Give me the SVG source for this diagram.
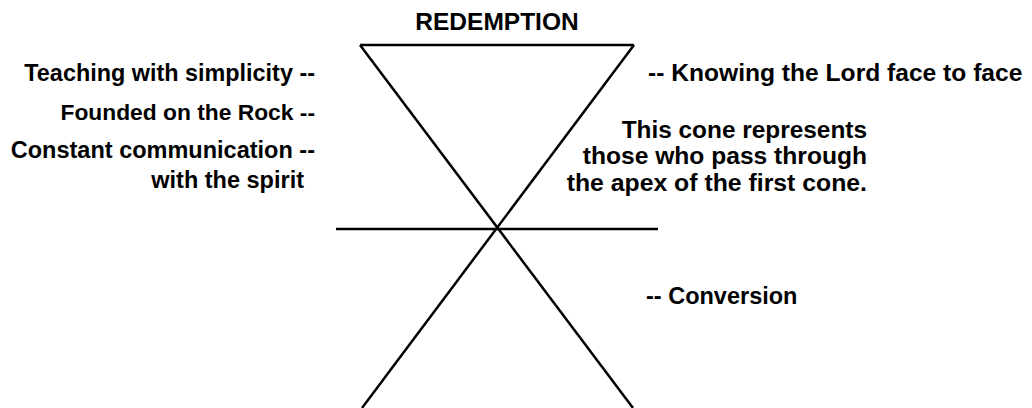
<svg xmlns="http://www.w3.org/2000/svg" width="1032" height="408" viewBox="0 0 1032 408">
<style>
text{font-family:"Liberation Sans",Arial,sans-serif;font-weight:bold;font-size:23.5px;fill:#000}
.e{text-anchor:end}
.m{text-anchor:middle}
.ln{stroke:#000;stroke-width:2.5;fill:none;stroke-linecap:butt}
</style>
<rect width="1032" height="408" fill="#fff"/>
<g id="connectors">
<line class="ln" x1="360" y1="45" x2="634" y2="45"/>
<line class="ln" x1="360" y1="45" x2="633" y2="408"/>
<line class="ln" x1="634" y1="45" x2="362" y2="408"/>
<line class="ln" x1="336" y1="229" x2="658" y2="229"/>
</g>
<g id="redemption"><text class="m" x="497" y="30" style="font-size:24.5px">REDEMPTION</text></g>
<g id="teaching"><text class="e" x="315" y="81" style="font-size:23.4px">Teaching with simplicity --</text></g>
<g id="founded"><text class="e" x="315" y="120" style="font-size:22.8px">Founded on the Rock --</text></g>
<g id="constant"><text class="e" x="315" y="158">Constant communication --</text><text class="e" x="304" y="188">with the spirit</text></g>
<g id="knowing"><text x="648" y="81" style="font-size:24.6px">-- Knowing the Lord face to face</text></g>
<g id="cone-note"><text class="e" x="867" y="138" style="font-size:24.4px">This cone represents</text><text class="e" x="867" y="164" style="font-size:24.6px">those who pass through</text><text class="e" x="867" y="191" style="font-size:24.8px">the apex of the first cone.</text></g>
<g id="conversion"><text x="646" y="304" style="font-size:23.5px">-- Conversion</text></g>
</svg>
